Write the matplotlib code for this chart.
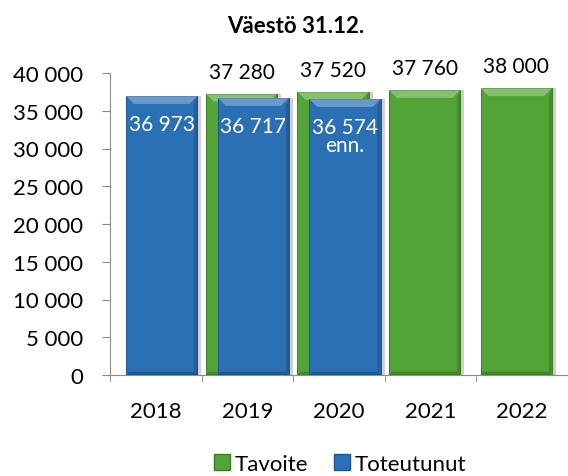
import numpy as np
import matplotlib.pyplot as plt
from matplotlib.patches import Patch, Polygon

plt.rcParams['font.family'] = ['Lato', 'DejaVu Sans']

years = ['2018', '2019', '2020', '2021', '2022']
tavoite = [np.nan, 37280, 37520, 37760, 38000]
toteutunut = [36973, 36717, 36574, np.nan, np.nan]
notes = ['', '', 'enn.', '', '']
yticks = np.arange(0, 40001, 5000)

green = '#52A436'
blue = '#2B6FB5'
axis_col = '#8C8C8C'


def fmt(v):
    return f'{int(v):,}'.replace(',', ' ')


fig = plt.figure(figsize=(5.68, 4.77), dpi=100)
ax = fig.add_axes([110 / 568, 1 - 376 / 477, 458 / 568, 302 / 477])
ax.set_xlim(-0.5, len(years) - 0.5)
ax.set_ylim(0, 40000)

x = np.arange(len(years))
w = 0.78
off = 0.065
# bevel size in data units (about 8 px)
bx = 8 / 91.6
by = 8 / 302 * 40000
sh = 4 / 91.6


def bevel(bars, zo):
    for r in bars:
        x0, y0 = r.get_x(), r.get_y()
        x1, y1 = x0 + r.get_width(), y0 + r.get_height()
        if np.isnan(y1) or r.get_height() == 0:
            continue
        ax.add_patch(Polygon([(x0, y1), (x1, y1), (x1 - bx, y1 - by), (x0 + bx, y1 - by)],
                             closed=True, facecolor='white', alpha=0.3, lw=0, zorder=zo))
        ax.add_patch(Polygon([(x1, y1), (x1, y0), (x1 - bx * 0.4, y0 + by * 0.4), (x1 - bx * 0.4, y1 - by)],
                             closed=True, facecolor='black', alpha=0.15, lw=0, zorder=zo))
        ax.add_patch(Polygon([(x0, y0), (x1, y0), (x1 - bx * 0.4, y0 + by * 0.4), (x0 + bx * 0.4, y0 + by * 0.4)],
                             closed=True, facecolor='black', alpha=0.2, lw=0, zorder=zo))


ax.bar(x - off + sh, tavoite, w, color='#D0D0D0', linewidth=0, zorder=1.5)
g = ax.bar(x - off, tavoite, w, color=green, edgecolor='#3C7D25', linewidth=0.7, zorder=2)
bevel(g, 2.1)
ax.bar(x + off + sh, toteutunut, w, color='#D0D0D0', linewidth=0, zorder=2.5)
b = ax.bar(x + off, toteutunut, w, color=blue, edgecolor='#1E558F', linewidth=0.7, zorder=3)
bevel(b, 3.1)

for xi, v in zip(x, tavoite):
    if not np.isnan(v):
        ax.annotate(fmt(v), (xi - off, v), xytext=(0, 12), textcoords='offset pixels',
                    ha='center', va='bottom', fontsize=15, color='black')

for xi, v, n in zip(x, toteutunut, notes):
    if not np.isnan(v):
        txt = fmt(v) + ('\n' + n if n else '')
        ax.annotate(txt, (xi + off, v), xytext=(0, -18), textcoords='offset pixels',
                    ha='center', va='top', fontsize=15, color='white', linespacing=0.9,
                    zorder=5)

ax.set_yticks(yticks)
ax.set_yticklabels([fmt(v) for v in yticks], fontsize=16)
ax.set_xticks(x)
ax.set_xticklabels(years, fontsize=16)
ax.set_xticks(np.arange(-0.5, len(years)), minor=True)
ax.tick_params(axis='x', which='major', length=0, pad=19)
ax.tick_params(axis='x', which='minor', length=5, color=axis_col, direction='out')
ax.tick_params(axis='y', length=6, color=axis_col, pad=13)

for key in ['top', 'right']:
    ax.spines[key].set_visible(False)
for key in ['left', 'bottom']:
    ax.spines[key].set_color(axis_col)

fig.text(296 / 568, 1 - 33 / 477, 'Väestö 31.12.', ha='center', va='baseline',
         fontsize=16, fontweight='bold')

handles = [Patch(facecolor=green, edgecolor='#3C7D25', label='Tavoite'),
           Patch(facecolor=blue, edgecolor='#1E558F', label='Toteutunut')]
fig.legend(handles=handles, loc='center', bbox_to_anchor=(340 / 568, 1 - 465 / 477),
           ncol=2, frameon=False, fontsize=16, handlelength=0.7, handleheight=0.7,
           handletextpad=0.2, columnspacing=1.2, borderpad=0)

plt.savefig('out.png', dpi=100)
